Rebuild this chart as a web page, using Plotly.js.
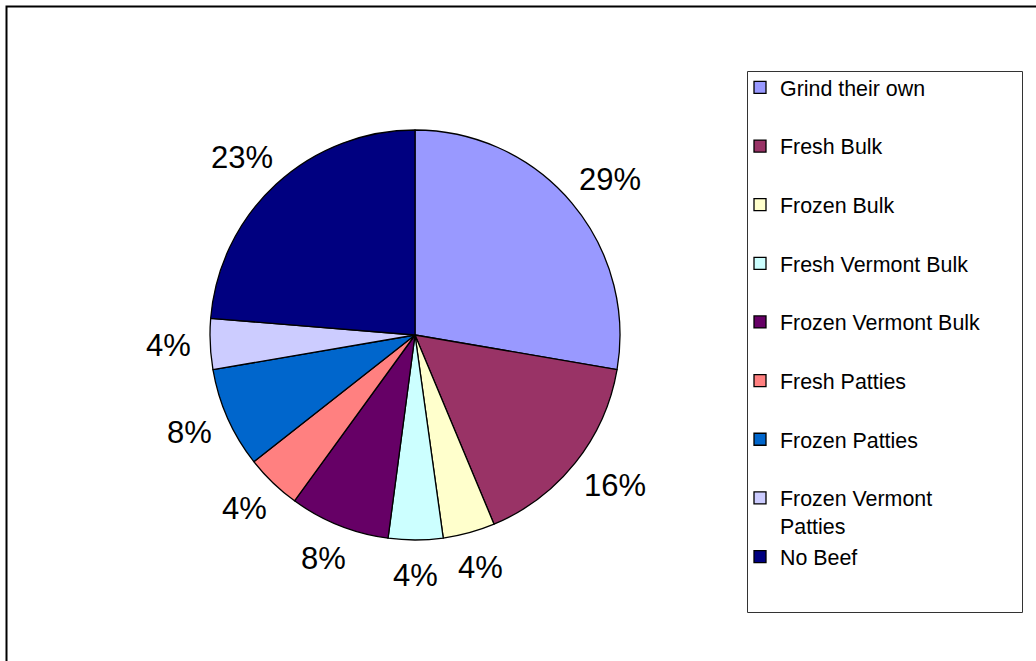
<!DOCTYPE html>
<html>
<head>
<meta charset="utf-8">
<script src="https://cdn.plot.ly/plotly-3.0.1.min.js"></script>
<style>
  html, body { margin: 0; padding: 0; background: #fff; }
  #chart { width: 1036px; height: 661px; }
</style>
</head>
<body>
<div id="chart"></div>
<script>
// Categories (legend labels), in clockwise order from 12 o'clock
const categories = [
  "Grind their own",
  "Fresh Bulk",
  "Frozen Bulk",
  "Fresh Vermont Bulk",
  "Frozen Vermont Bulk",
  "Fresh Patties",
  "Frozen Patties",
  "Frozen Vermont Patties",
  "No Beef"
];
// Slice sizes (percent of the pie)
const shares = [27.7, 16.0, 4.1, 4.3, 7.9, 4.4, 7.9, 4.0, 23.7];
// Data labels exactly as printed on the chart
const dataLabels = ["29%", "16%", "4%", "4%", "8%", "4%", "8%", "4%", "23%"];
// Slice colours (classic Excel palette)
const sliceColors = [
  "#9999FF", "#993366", "#FFFFCC", "#CCFFFF", "#660066",
  "#FF8080", "#0066CC", "#CCCCFF", "#000080"
];

// Legend display text: each entry takes two lines, as in the reference;
// the long label wraps onto its second line.
const legendText = categories.map(function (c) {
  if (c === "Frozen Vermont Patties") return "Frozen Vermont<br>Patties";
  return c + "<br> ";
});

const W = 1036, H = 661;
const cx = 415, cy = 335, r = 205;   // pie placement (px)
const labelRx0 = 224;                // horizontal label offset (before half-width)
const labelRy = 241;                 // vertical label offset
const LABEL_SIZE = 31;
const FONT = "Liberation Sans, Arial, sans-serif";

const trace = {
  type: "pie",
  labels: legendText,
  values: shares,
  sort: false,
  direction: "clockwise",
  rotation: 0,
  marker: { colors: sliceColors, line: { color: "#000000", width: 1.3 } },
  textinfo: "none",
  hoverinfo: "label",
  domain: {
    x: [(cx - r) / W, (cx + r) / W],
    y: [(H - cy - r) / H, (H - cy + r) / H]
  }
};

// Approximate text width (em) for the label glyphs
function textEm(s) {
  let w = 0;
  for (const ch of s) w += (ch === "%") ? 0.889 : 0.556;
  return w;
}

// Data labels placed just outside each slice at its mid-angle
const total = shares.reduce(function (a, b) { return a + b; }, 0);
let cum = 0;
const annotations = shares.map(function (v, i) {
  const mid = (cum + v / 2) / total * 2 * Math.PI;
  cum += v;
  const s = Math.sin(mid), c = Math.cos(mid);
  const hw = textEm(dataLabels[i]) * LABEL_SIZE / 2;
  const px = cx + (labelRx0 + hw) * s;
  const py = cy - labelRy * c;
  return {
    xref: "paper", yref: "paper",
    x: px / W, y: 1 - py / H,
    xanchor: "center", yanchor: "middle",
    text: dataLabels[i],
    showarrow: false,
    font: { family: FONT, size: LABEL_SIZE, color: "#000000" }
  };
});

const layout = {
  width: W,
  height: H,
  margin: { l: 0, r: 0, t: 0, b: 0, pad: 0 },
  paper_bgcolor: "#ffffff",
  plot_bgcolor: "#ffffff",
  showlegend: true,
  legend: {
    x: 740 / W,
    xanchor: "left",
    y: 1 - 67 / H,
    yanchor: "top",
    borderwidth: 0,
    bgcolor: "rgba(0,0,0,0)",
    valign: "top",
    font: { family: FONT, size: 21.4, color: "#000000" },
    traceorder: "normal"
  },
  annotations: annotations,
  shapes: [
    // outer chart-area border
    {
      type: "rect", xref: "paper", yref: "paper",
      x0: 6.5 / W, x1: 1.05, y0: -0.05, y1: 1 - 6.5 / H,
      line: { color: "#000000", width: 2 }
    },
    // legend frame
    {
      type: "rect", xref: "paper", yref: "paper",
      x0: 747.5 / W, x1: 1022.5 / W, y0: 1 - 612.5 / H, y1: 1 - 71.5 / H,
      line: { color: "#333333", width: 1 }
    }
  ]
};

Plotly.newPlot("chart", [trace], layout, { displayModeBar: false, staticPlot: true });
</script>
</body>
</html>
